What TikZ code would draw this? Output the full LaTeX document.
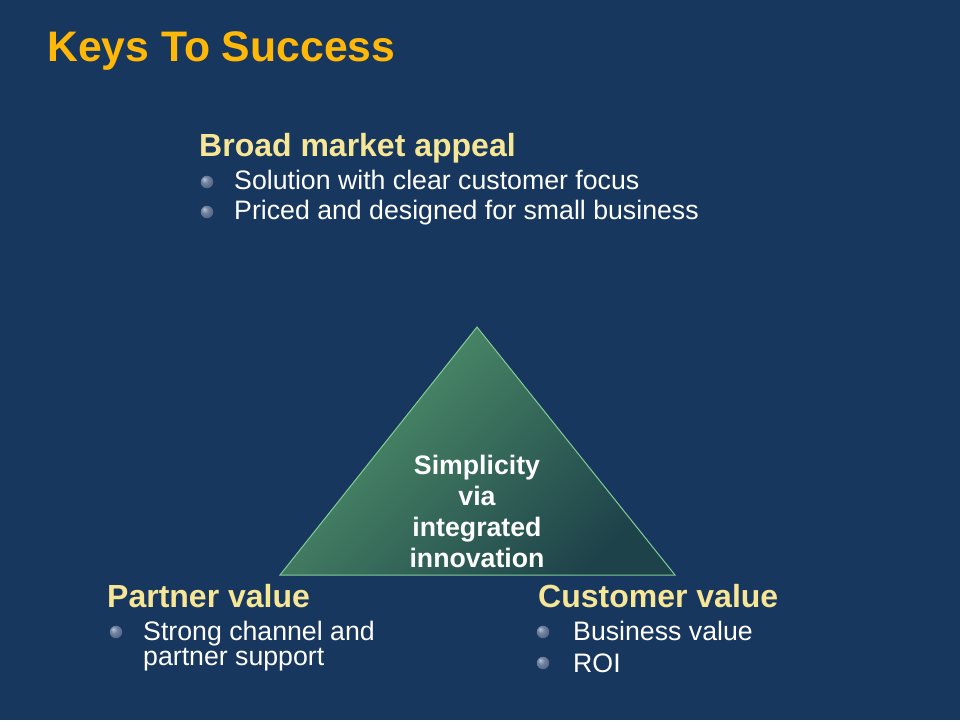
\documentclass[tikz,border=0pt]{standalone}
\usepackage{xcolor}
\usepackage{fontspec}
\setmainfont{Liberation Sans}
\usepackage{tikz}
\usetikzlibrary{positioning,shadings}

\definecolor{slidebg}{RGB}{23,55,94}
\definecolor{titlegold}{RGB}{255,184,8}
\definecolor{headyellow}{RGB}{246,230,150}
\definecolor{pyrlight}{RGB}{82,150,108}
\definecolor{pyrmid}{RGB}{62,126,96}
\definecolor{pyrdark}{RGB}{30,66,74}
\definecolor{pyredge}{RGB}{130,205,150}

% shaded ball for the bullets
\pgfdeclareradialshading{bulletball}{\pgfpoint{-12bp}{12bp}}{%
    rgb(0bp)=(0.72,0.77,0.84);
    rgb(14bp)=(0.44,0.51,0.62);
    rgb(34bp)=(0.30,0.37,0.49);
    rgb(50bp)=(0.26,0.32,0.44)}

\begin{document}
\begin{tikzpicture}[
    % GLOBAL CFG
    x=1pt, y=-1pt,
    inner sep=0pt,
    % Styles
    slidetitle/.style={% For the big title
        anchor=base west,
        font=\bfseries\fontsize{42.7}{48}\selectfont,
        text=titlegold,
        },
    heading/.style={% For the three key headings
        anchor=base west,
        font=\bfseries\fontsize{32}{38}\selectfont,
        text=headyellow,
        },
    item/.style={% For the bullet texts
        anchor=base west,
        font=\fontsize{26.7}{25}\selectfont,
        text=white,
        align=left,
        },
    dot/.style={% Round bullets
        circle,
        minimum size=12.5pt,
        shading=bulletball,
        },
    core/.style={% Text inside the triangle
        anchor=north,
        align=center,
        font=\bfseries\fontsize{26.7}{31}\selectfont,
        text=white,
        },
    ]

    % Background of the slide
    \fill [slidebg] (0,0) rectangle (960,720);
    \useasboundingbox (0,0) rectangle (960,720);

    % Title
    \node [slidetitle] (title) at (47,61) {Keys To Success};

    % The triangle
    \coordinate (apex) at (477,327);
    \coordinate (left) at (280,575);
    \coordinate (right) at (675,575);
    \shade [draw=pyredge, line width=1pt, top color=pyrlight, middle color=pyrmid,
        bottom color=pyrdark, shading angle=45] (apex) -- (left) -- (right) -- cycle;

    \node [core] (core) at (477,455) {Simplicity\\via\\integrated\\innovation};

    % Broad market appeal
    \node [heading] (market) at (199,156) {Broad market appeal};
    \node [dot] (m1) at (207,182) {};
    \node [item] (m1t) at (234,189) {Solution with clear customer focus};
    \node [dot] (m2) at (207,212) {};
    \node [item] (m2t) at (234,219) {Priced and designed for small business};

    % Partner value
    \node [heading] (partner) at (107,607) {Partner value};
    \node [dot] (p1) at (116,632) {};
    \node [item, anchor=north west] (p1t) at (143,620.5) {Strong channel and\\partner support};

    % Customer value
    \node [heading] (customer) at (538,607) {Customer value};
    \node [dot] (c1) at (543,632) {};
    \node [item] (c1t) at (573,640) {Business value};
    \node [dot] (c2) at (543,663) {};
    \node [item] (c2t) at (573,672) {ROI};

\end{tikzpicture}
\end{document}
